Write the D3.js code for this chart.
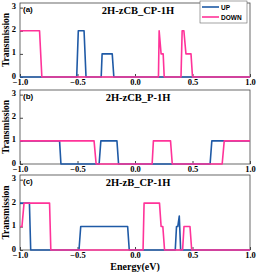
<!DOCTYPE html>
<html>
<head>
<meta charset="utf-8">
<script src="https://cdn.jsdelivr.net/npm/d3@7"></script>
<style>
  body { margin: 0; background: #fff; }
  svg { display: block; }
  .tick text { font-family: "Liberation Serif", serif; font-weight: bold; font-size: 8.5px; }
</style>
</head>
<body>
<svg id="chart" width="258" height="272"></svg>
<script>
// panel titles / labels
const panelLabels = ["(a)", "(b)", "(c)"];
const panelTitles = ["2H-zCB_CP-1H", "2H-zCB_P-1H", "2H-zB_CP-1H"];
const xTicks = [-1.0, -0.5, 0.0, 0.5, 1.0];
const yTicks = [0, 1, 2, 3];

// (a) energy / transmission pairs
const aUpE = [-1.0, -0.507, -0.493, -0.443, -0.426, -0.294, -0.286, -0.198, -0.184, 1.0];
const aUpT = [0, 0, 2, 2, 0, 0, 1, 1, 0, 0];
const aDownE = [-1.0, -0.83, -0.81, 0.204, 0.21, 0.227, 0.245, 0.254, 0.40, 0.41, 0.425, 0.443, 0.487, 0.50, 1.0];
const aDownT = [2, 2, 0, 0, 2, 1, 1, 0, 0, 2, 2, 1, 1, 0, 0];

// (b)
const bUpE = [-1.0, -0.656, -0.644, -0.312, -0.297, -0.157, -0.143, 0.653, 0.668, 1.0];
const bUpT = [1, 1, 0, 0, 1, 1, 0, 0, 1, 1];
const bDownE = [-1.0, -0.356, -0.338, 0.149, 0.160, 0.309, 0.324, 0.758, 0.776, 1.0];
const bDownT = [1, 1, 0, 0, 1, 1, 0, 0, 1, 1];

// (c)
const cUpE = [-1.0, -0.918, -0.907, -0.487, -0.472, -0.064, -0.050, 0.35, 0.361, 0.372, 0.385, 0.397, 1.0];
const cUpT = [2, 2, 0, 0, 1, 1, 0, 0, 1, 1, 1.45, 0, 0];
const cDownE = [-1.0, -0.983, -0.965, -0.743, -0.732, 0.07, 0.079, 0.213, 0.227, 0.242, 0.257, 0.414, 0.426, 0.478, 0.493, 1.0];
const cDownT = [1, 1, 2, 2, 0, 0, 2, 2, 1, 1, 0, 0, 1, 1, 0, 0];

const series = [
  [[aUpE, aUpT], [aDownE, aDownT]],
  [[bUpE, bUpT], [bDownE, bDownT]],
  [[cUpE, cUpT], [cDownE, cDownT]]
];

const colors = { UP: "#1f5aa6", DOWN: "#ff3399" };
const svg = d3.select("#chart");
const left = 20, right = 250;
const panels = [{ top: 3, bottom: 77 }, { top: 90, bottom: 164 }, { top: 175, bottom: 250 }];

const x = d3.scaleLinear().domain([-1, 1]).range([left, right]);

panels.forEach((p, i) => {
  const y = d3.scaleLinear().domain([0, 3.2]).range([p.bottom, p.top]);
  const g = svg.append("g");

  // frame
  g.append("rect")
    .attr("x", left).attr("y", p.top)
    .attr("width", right - left).attr("height", p.bottom - p.top)
    .attr("fill", "none").attr("stroke", "#444").attr("stroke-width", 0.8);

  // axes
  g.append("g")
    .attr("transform", `translate(0,${p.bottom})`)
    .call(d3.axisBottom(x).tickValues(xTicks).tickFormat(d3.format(".1f")).tickSize(-3).tickPadding(2))
    .call(a => a.select(".domain").remove())
    .call(a => a.selectAll("line").attr("stroke", "#444"));
  g.append("g")
    .attr("transform", `translate(${left},0)`)
    .call(d3.axisLeft(y).tickValues(yTicks).tickFormat(d3.format("d")).tickSize(-3).tickPadding(4))
    .call(a => a.select(".domain").remove())
    .call(a => a.selectAll("line").attr("stroke", "#444"))
    .call(a => a.selectAll("text").attr("dy", "0.12em"));

  const line = d3.line().x(d => x(d[0])).y(d => y(d[1]));
  ["UP", "DOWN"].forEach((name, k) => {
    const [es, ts] = series[i][k];
    g.append("path")
      .datum(es.map((e, j) => [e, ts[j]]))
      .attr("d", line)
      .attr("fill", "none")
      .attr("stroke", colors[name])
      .attr("stroke-width", 1.6)
      .attr("stroke-linejoin", "round");
  });

  g.append("text")
    .attr("x", left + 3).attr("y", p.top + 9)
    .attr("font-family", "Arial, sans-serif").attr("font-weight", "bold").attr("font-size", 8)
    .text(panelLabels[i]);
  g.append("text")
    .attr("x", 138).attr("y", p.top + 11)
    .attr("text-anchor", "middle")
    .attr("font-family", "Liberation Serif, serif").attr("font-weight", "bold").attr("font-size", 10.5)
    .text(panelTitles[i]);
  g.append("text")
    .attr("transform", `translate(9,${(p.top + p.bottom) / 2}) rotate(-90)`)
    .attr("text-anchor", "middle")
    .attr("font-family", "Liberation Serif, serif").attr("font-weight", "bold").attr("font-size", 9.5)
    .text("Transmission");
});

// legend
const lg = svg.append("g");
lg.append("rect").attr("x", 200).attr("y", 1).attr("width", 47).attr("height", 22)
  .attr("fill", "#fff").attr("stroke", "#666").attr("stroke-width", 0.6);
["UP", "DOWN"].forEach((name, k) => {
  const yy = 7 + k * 10;
  lg.append("line").attr("x1", 202).attr("x2", 219).attr("y1", yy).attr("y2", yy)
    .attr("stroke", colors[name]).attr("stroke-width", 1.6);
  lg.append("text").attr("x", 221).attr("y", yy + 2.5)
    .attr("font-family", "Arial, sans-serif").attr("font-weight", "bold").attr("font-size", 6.5)
    .text(name);
});

svg.append("text")
  .attr("x", 135).attr("y", 270)
  .attr("text-anchor", "middle")
  .attr("font-family", "Liberation Serif, serif").attr("font-weight", "bold").attr("font-size", 10)
  .text("Energy(eV)");
</script>
</body>
</html>
